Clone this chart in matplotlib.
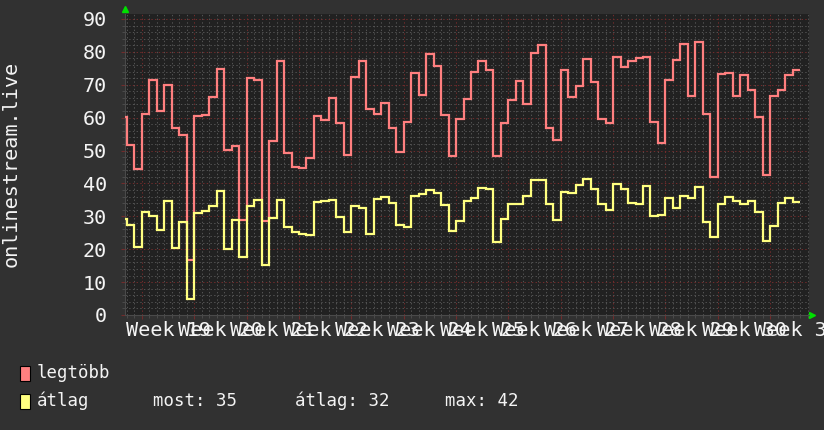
import numpy as np
import matplotlib.pyplot as plt
from matplotlib.patches import Rectangle
from matplotlib.transforms import blended_transform_factory

# day index, 0 = Monday of week 19; first value is a partial day
days = np.arange(-3, 88)
legtobb = [60.3, 51.7, 44.4, 61.2, 71.5, 62.1, 70.0, 56.9, 54.7, 16.6,
           60.5, 60.8, 66.3, 74.9, 50.2, 51.5, 28.9, 72.1, 71.5, 28.7,
           52.9, 77.3, 49.3, 45.1, 44.8, 47.8, 60.5, 59.4, 66.1, 58.5,
           48.6, 72.4, 77.3, 62.5, 61.2, 64.5, 56.7, 49.5, 58.8, 73.7,
           66.9, 79.2, 75.7, 60.8, 48.3, 59.5, 65.7, 74.0, 77.3, 74.5,
           48.3, 58.3, 65.4, 71.2, 64.0, 79.5, 82.2, 56.9, 53.2, 74.6,
           66.2, 69.6, 77.8, 70.9, 59.7, 58.3, 78.5, 75.5, 77.2, 78.1,
           78.5, 58.8, 52.4, 71.5, 77.5, 82.3, 66.6, 82.9, 61.1, 42.0,
           73.2, 73.5, 66.6, 73.0, 68.3, 60.2, 42.7, 66.6, 68.3, 73.0, 74.5]
atlag = [29.1, 27.4, 20.7, 31.4, 30.2, 25.8, 34.8, 20.4, 28.4, 5.0,
         30.9, 31.7, 33.2, 37.8, 20.1, 28.9, 17.6, 33.1, 35.0, 15.2,
         29.5, 35.0, 26.7, 25.1, 24.7, 24.3, 34.3, 34.8, 35.1, 29.9,
         25.3, 33.2, 32.5, 24.6, 35.4, 36.0, 34.0, 27.4, 26.7, 36.1,
         36.9, 38.1, 37.2, 33.4, 25.6, 28.5, 34.8, 35.7, 38.6, 38.3,
         22.3, 29.2, 33.6, 33.6, 36.2, 41.0, 41.0, 33.6, 28.9, 37.5,
         37.2, 39.6, 41.3, 38.3, 33.7, 31.9, 39.8, 38.4, 34.1, 33.8,
         39.2, 30.1, 30.5, 35.6, 32.6, 36.2, 35.7, 38.9, 28.2, 23.8,
         33.8, 35.9, 34.7, 33.6, 34.7, 31.4, 22.6, 27.1, 33.9, 35.6, 34.4]
weeks = list(range(19, 32))
yticks = list(range(0, 100, 10))
stats = [("most:", 35), ("átlag:", 32), ("max:", 42)]

W, H = 824, 430
mono = "DejaVu Sans Mono"
fig = plt.figure(figsize=(W / 100, H / 100), dpi=100, facecolor="#313131")
ax = fig.add_axes([125 / W, 1 - 315 / H, 684 / W, 301 / H])
ax.set_facecolor("#212121")

edges = np.append(days, days[-1] + 1)
ax.stairs(legtobb, edges, baseline=None, color="#ff7f7f", lw=1.6, zorder=3)
ax.stairs(atlag, edges, baseline=None, color="#ffff80", lw=1.6, zorder=4)

ax.set_xlim(-2.27, 89.2)
ax.set_ylim(0, 91.5)
ax.set_xticks([7 * i for i in range(len(weeks))])
ax.set_xticks(np.arange(-2, 90), minor=True)
ax.set_xticklabels([])
ax.set_yticks(yticks)
ax.set_yticks(np.arange(0, 92, 2), minor=True)
ax.set_yticklabels([str(v) for v in yticks], family=mono, fontsize=14.5, color="#f4f4f4")
ax.tick_params(axis="y", which="major", length=3, pad=10, color="#702c2c")
ax.tick_params(axis="x", which="major", length=3, color="#702c2c")
ax.tick_params(which="minor", length=2, color="#505050")

ax.set_axisbelow(True)
ax.grid(which="minor", color="#545454", lw=0.7, linestyle=(0, (1.4, 2.4)))
ax.grid(which="major", color="#742c2c", lw=0.7, linestyle=(0, (1.4, 2.4)))
for s in ["top", "right"]:
    ax.spines[s].set_visible(False)
for s in ["left", "bottom"]:
    ax.spines[s].set_color("#4a4a4a")

trans = blended_transform_factory(ax.transData, ax.transAxes)
for i, w in enumerate(weeks):
    ax.text(7 * i + 3.5, -0.05, f"Week {w}", transform=trans, ha="center", va="center",
            family=mono, fontsize=14.5, color="#f4f4f4", clip_on=False)

# rrdtool style arrows
ax.plot([0], [1.015], marker="^", color="#00e000", ms=5, transform=ax.transAxes, clip_on=False)
ax.plot([1.005], [0], marker=">", color="#00e000", ms=5, transform=ax.transAxes, clip_on=False)

fig.text(11 / W, 1 - 164 / H, "onlinestream.live", rotation=90, ha="center", va="center",
         family=mono, fontsize=14.5, color="#f4f4f4")

# legend
for yc, col, lab in [(373, "#ff8080", "legtöbb"), (401, "#ffff80", "átlag")]:
    fig.add_artist(Rectangle((20 / W, 1 - (yc + 7.5) / H), 10 / W, 15 / H,
                             facecolor=col, edgecolor="black", lw=0.8, transform=fig.transFigure))
    fig.text(37 / W, 1 - yc / H, lab, ha="left", va="center", family=mono,
             fontsize=12.5, color="#f4f4f4")
for xl, (name, val) in zip([153, 295, 445], stats):
    fig.text(xl / W, 1 - 401 / H, f"{name} {val}", ha="left", va="center", family=mono,
             fontsize=12.5, color="#f4f4f4")

fig.savefig("out.png", dpi=100, facecolor=fig.get_facecolor())
